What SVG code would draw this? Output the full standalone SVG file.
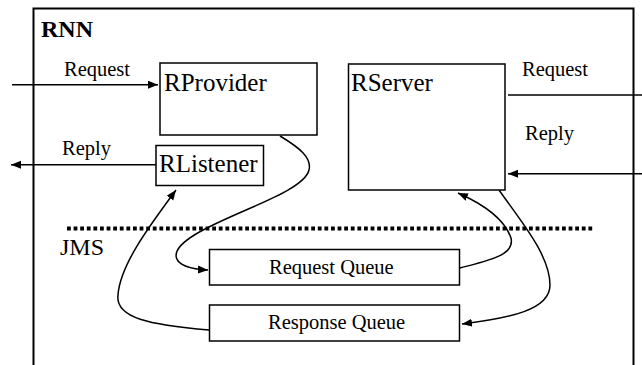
<svg xmlns="http://www.w3.org/2000/svg" width="642" height="365" viewBox="0 0 642 365">
<style>
text{font-family:"Liberation Serif","Times New Roman",serif;fill:#000}
.box{fill:#fff;stroke:#000;stroke-width:1.5}
.big{font-size:25px}
.lbl{font-size:20.5px}
.q{font-size:20.5px}
.ln{fill:none;stroke:#000;stroke-width:1.5}
</style>
<defs>
<marker id="ah" markerUnits="userSpaceOnUse" markerWidth="12" markerHeight="10" refX="10" refY="4" orient="auto">
<path d="M0,0 L10,4 L0,8 Z" fill="#000"/>
</marker>
</defs>
<g id="frame">
<rect x="33.5" y="8.5" width="600" height="380" fill="none" stroke="#000" stroke-width="2"/>
<text x="41" y="37" style="font-size:24px;font-weight:bold">RNN</text>
<text x="60" y="255" style="font-size:24px">JMS</text>
<line x1="67" y1="228.5" x2="594" y2="228.5" stroke="#000" stroke-width="4" stroke-dasharray="3.8 2.8"/>
</g>
<g id="connectors">
<line class="ln" x1="12" y1="84.7" x2="158" y2="84.7" marker-end="url(#ah)"/>
<line class="ln" x1="156" y1="164.7" x2="11" y2="164.7" marker-end="url(#ah)"/>
<line class="ln" x1="508" y1="95" x2="642" y2="95"/>
<line class="ln" x1="642" y1="173.7" x2="508" y2="173.7" marker-end="url(#ah)"/>
<path class="ln" d="M280,136 C300,148 312,158 309,170 C304,192 232,212 196,234 C166,252 170,268 208,270" marker-end="url(#ah)"/>
<path class="ln" d="M209,330 C150,325 115,318 118,295 C120,265 150,225 176,190" marker-end="url(#ah)"/>
<path class="ln" d="M460,268 C490,260 515,255 511,238 C505,220 485,205 458,193" marker-end="url(#ah)"/>
<path class="ln" d="M499,190 C520,220 550,255 550,285 C550,310 510,318 462,324" marker-end="url(#ah)"/>
</g>
<g id="labels">
<text class="lbl" x="64" y="76">Request</text>
<text class="lbl" x="62" y="155">Reply</text>
<text class="lbl" x="522" y="76">Request</text>
<text class="lbl" x="525" y="140">Reply</text>
</g>
<g id="rprovider">
<rect class="box" x="160" y="63" width="157" height="72"/>
<text class="big" x="164" y="91">RProvider</text>
</g>
<g id="rlistener">
<rect class="box" x="156" y="145.5" width="107.5" height="40"/>
<text class="big" x="159" y="172">RListener</text>
</g>
<g id="rserver">
<rect class="box" x="348.5" y="64" width="156.5" height="126"/>
<text class="big" x="351" y="91">RServer</text>
</g>
<g id="request-queue">
<rect class="box" x="209.5" y="249.5" width="250" height="35.5"/>
<text class="q" x="269" y="274">Request Queue</text>
</g>
<g id="response-queue">
<rect class="box" x="209.5" y="305" width="250" height="36"/>
<text class="q" x="268" y="329">Response Queue</text>
</g>
</svg>
